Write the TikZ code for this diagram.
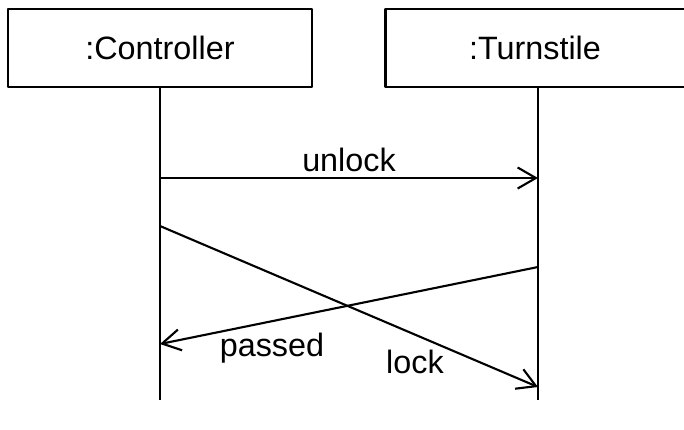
\documentclass[tikz,border=0pt]{standalone}
\usepackage{fontspec}
\setmainfont{Liberation Sans}
\usetikzlibrary{arrows.meta}
\begin{document}
\begin{tikzpicture}[x=0.025cm,y=-0.025cm,line join=round,line width=1.5pt,>={Straight Barb[length=13pt,width=15pt]},
  objbox/.style={draw,minimum width=7.6cm,minimum height=1.95cm,font=\fontsize{23}{28}\selectfont},
  msglabel/.style={font=\fontsize{23}{28}\selectfont,inner sep=0pt}]
\useasboundingbox (0,0) rectangle (684,429);
\node[objbox] (ctrl) at (160,48) {:Controller};
\node[objbox,minimum width=8cm] (turn) at (545.5,48) {\hspace*{-15pt}:Turnstile};
\coordinate (ctrlEnd) at (160,400);
\coordinate (turnEnd) at (538,400);
\draw (ctrl.south)--(ctrlEnd);
\draw (turn.south-|turnEnd)--(turnEnd);

    \coordinate (unlockA) at (160,178);
    \coordinate (unlockB) at (538,178);
    \coordinate (lockA) at (160,226);
    \coordinate (lockB) at (538,387);
    \coordinate (passA) at (538,267);
    \coordinate (passB) at (160,344);

\draw[->](unlockA)--(unlockB);
\draw[->](lockA)--(lockB);
\draw[->](passA)--(passB);

    \node[msglabel] (unlockL) at (349,160) {unlock};
    \node[msglabel] (passL) at (272,348) {passed};
    \node[msglabel] (lockL) at (415,362) {lock};
  \end{tikzpicture}
\end{document}
